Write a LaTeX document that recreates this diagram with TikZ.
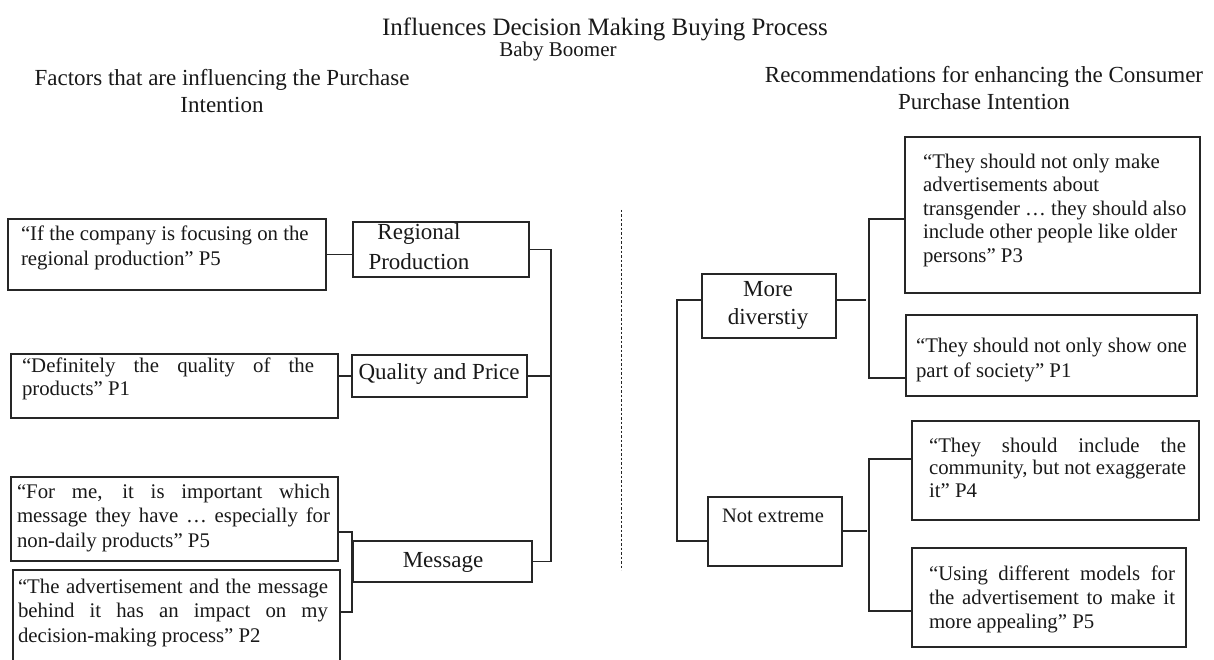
\documentclass[tikz,border=0pt]{standalone}
\usepackage{fontspec}
\setmainfont{Liberation Serif}
\newcommand\quotefont[1]{\fontsize{20.8}{#1}\selectfont}
\newcommand\labelfont[1]{\fontsize{23}{#1}\selectfont}
\newcommand\jline[2]{\makebox[#1pt][s]{#2}}
\begin{document}
\begin{tikzpicture}[x=1pt, y=-1pt,
  box/.style={draw=black!85, line width=1.3pt, inner sep=0pt, outer sep=0pt, anchor=north west},
  txt/.style={inner sep=0pt, outer sep=0pt, text=black!90},
  conn/.style={draw=black!85, line width=1.3pt},
  dashline/.style={draw=black!85, line width=1pt, dash pattern=on 2.5pt off 2pt}]
\useasboundingbox[fill=white] (0,0) rectangle (1214,660);

% headings
\node[txt, anchor=base, font=\fontsize{25}{30}\selectfont] (title) at (605,36) {Influences Decision Making Buying Process};
\node[txt, anchor=base, font=\fontsize{21}{25}\selectfont] (sub) at (558,57) {Baby Boomer};
\node[txt, anchor=north, align=center, font=\labelfont{27}] (lhead) at (222,69) {Factors that are influencing the Purchase\\Intention};
\node[txt, anchor=north, align=center, font=\labelfont{27}] (rhead) at (984,66) {Recommendations for enhancing the Consumer\\Purchase Intention};

% separator
\coordinate (d1) at (621,210);
\coordinate (d2) at (621,570);
\draw[dashline] (d1) -- (d2);

% left: quotes and factors
\node[box, minimum width=318pt, minimum height=71pt] (q1) at (8,219) {};
\node[box, minimum width=176pt, minimum height=55pt] (rp) at (353,222) {};
\node[box, minimum width=327pt, minimum height=64pt] (q2) at (11,354) {};
\node[box, minimum width=175pt, minimum height=42pt] (qp) at (352,355) {};
\node[box, minimum width=327pt, minimum height=84pt] (q3) at (11,477) {};
\node[box, minimum width=327pt, minimum height=105pt] (q4) at (13,570) {};
\node[box, minimum width=179pt, minimum height=41pt] (msg) at (353,541) {};

\node[txt, anchor=north west, align=left, font=\quotefont{25}] (tq1) at (21,226)
  {“If the company is focusing on the\\regional production” P5};
\node[txt, anchor=north, align=center, font=\labelfont{30}] (trp) at (419,224)
  {Regional\\Production};
\node[txt, anchor=north west, align=left, font=\quotefont{23}] (tq2) at (22,358)
  {\jline{292}{“Definitely the quality of the}\\products” P1};
\node[txt, anchor=base, font=\labelfont{27}] (tqp) at (439,379) {Quality and Price};
\node[txt, anchor=north west, align=left, font=\quotefont{24.5}] (tq3) at (17,484)
  {\jline{313}{“For me, it is important which}\\\jline{313}{message they have … especially for}\\non-daily products” P5};
\node[txt, anchor=north west, align=left, font=\quotefont{24.5}] (tq4) at (18,579)
  {\jline{310}{“The advertisement and the message}\\\jline{310}{behind it has an impact on my}\\decision-making process” P2};
\node[txt, anchor=base, font=\labelfont{27}] (tmsg) at (443,567) {Message};

% left connectors
\coordinate (tk) at (551,0);
\draw[conn] (q1.east) -- (q1.east -| rp.west);
\draw[conn] (qp.west) -- (qp.west -| q2.east);
\draw[conn] (rp.east) -| (tk |- msg.east) -- (msg.east);
\draw[conn] (qp.east) -- (qp.east -| tk);
\coordinate (b1) at (352,532);
\coordinate (b2) at (352,612);
\draw[conn] (q3.east |- b1) -- (b1) -- (b2) -- (q4.east |- b2);

% right: recommendations
\node[box, minimum width=134pt, minimum height=64pt] (md) at (702,274) {};
\node[box, minimum width=134pt, minimum height=69pt] (ne) at (708,497) {};
\node[box, minimum width=295pt, minimum height=156pt] (p3) at (905,137) {};
\node[box, minimum width=291pt, minimum height=81pt] (p1) at (906,315) {};
\node[box, minimum width=287pt, minimum height=99pt] (p4) at (912,421) {};
\node[box, minimum width=274pt, minimum height=99pt] (p5) at (912,548) {};

\node[txt, anchor=north, align=center, font=\labelfont{28}] (tmd) at (768,281) {More\\diverstiy};
\node[txt, anchor=base, font=\fontsize{20.5}{25}\selectfont] (tne) at (773,522) {Not extreme};
\node[txt, anchor=north west, align=left, font=\quotefont{23.5}] (tp3) at (923,154)
  {“They should not only make\\advertisements about\\transgender … they should also\\include other people like older\\persons” P3};
\node[txt, anchor=north west, align=left, font=\quotefont{25}] (tp1) at (916,338)
  {“They should not only show one\\part of society” P1};
\node[txt, anchor=north west, align=left, font=\quotefont{22.5}] (tp4) at (929,438)
  {\jline{257}{“They should include the}\\\jline{257}{community, but not exaggerate}\\it” P4};
\node[txt, anchor=north west, align=left, font=\quotefont{24}] (tp5) at (929,566)
  {\jline{246}{“Using different models for}\\\jline{246}{the advertisement to make it}\\more appealing” P5};

% right connectors
\coordinate (r1) at (677,300);
\coordinate (r2) at (677,541);
\draw[conn] (md.west |- r1) -- (r1) -- (r2) -- (ne.west |- r2);
\coordinate (s1) at (866,300);
\draw[conn] (md.east |- s1) -- (s1);
\coordinate (v1) at (869,219);
\coordinate (v2) at (869,378);
\draw[conn] (p3.west |- v1) -- (v1) -- (v2) -- (p1.west |- v2);
\coordinate (s2) at (867,531);
\draw[conn] (ne.east |- s2) -- (s2);
\coordinate (w1) at (869,459);
\coordinate (w2) at (869,611);
\draw[conn] (p4.west |- w1) -- (w1) -- (w2) -- (p5.west |- w2);
\end{tikzpicture}
\end{document}
